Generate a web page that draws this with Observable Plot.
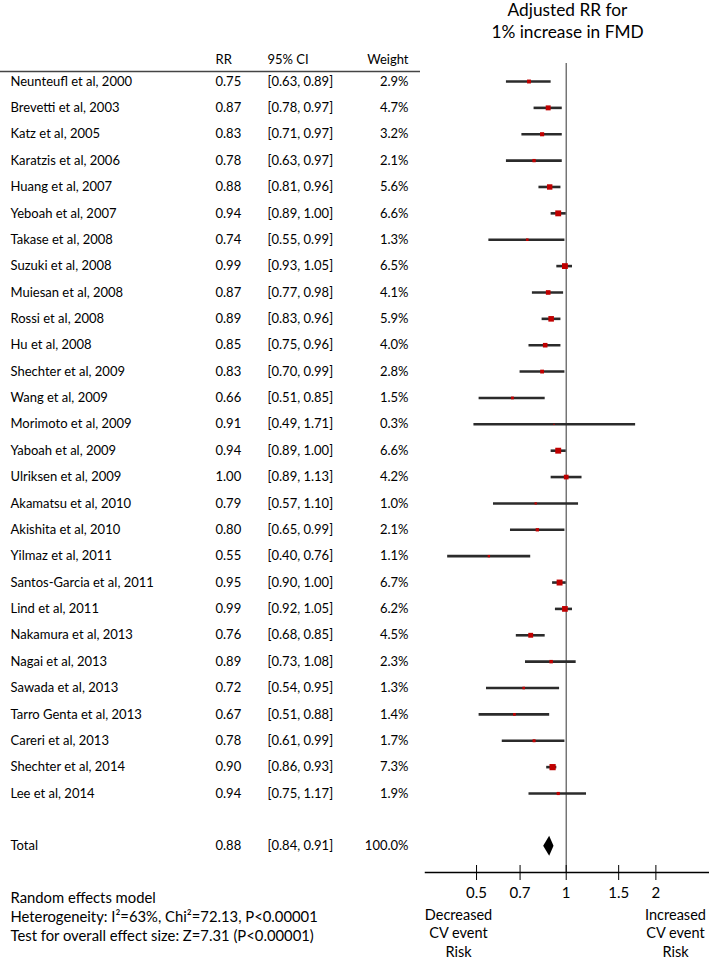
<!DOCTYPE html>
<html><head><meta charset="utf-8">
<script src="https://cdn.jsdelivr.net/npm/d3@7"></script>
<script src="https://cdn.jsdelivr.net/npm/@observablehq/plot@0.6"></script>
<style>body{margin:0;background:#fff} #chart{width:709px;height:960px}</style>
</head><body><div id="chart"></div>
<script>
const studies = ["Neunteufl et al, 2000","Brevetti et al, 2003","Katz et al, 2005","Karatzis et al, 2006","Huang et al, 2007","Yeboah et al, 2007","Takase et al, 2008","Suzuki et al, 2008","Muiesan et al, 2008","Rossi et al, 2008","Hu et al, 2008","Shechter et al, 2009","Wang et al, 2009","Morimoto et al, 2009","Yaboah et al, 2009","Ulriksen et al, 2009","Akamatsu et al, 2010","Akishita et al, 2010","Yilmaz et al, 2011","Santos-Garcia et al, 2011","Lind et al, 2011","Nakamura et al, 2013","Nagai et al, 2013","Sawada et al, 2013","Tarro Genta et al, 2013","Careri et al, 2013","Shechter et al, 2014","Lee et al, 2014"];
const rr =     [0.75,0.87,0.83,0.78,0.88,0.94,0.74,0.99,0.87,0.89,0.85,0.83,0.66,0.91,0.94,1.00,0.79,0.80,0.55,0.95,0.99,0.76,0.89,0.72,0.67,0.78,0.90,0.94];
const ciLow =  [0.63,0.78,0.71,0.63,0.81,0.89,0.55,0.93,0.77,0.83,0.75,0.70,0.51,0.49,0.89,0.89,0.57,0.65,0.40,0.90,0.92,0.68,0.73,0.54,0.51,0.61,0.86,0.75];
const ciHigh = [0.89,0.97,0.97,0.97,0.96,1.00,0.99,1.05,0.98,0.96,0.96,0.99,0.85,1.71,1.00,1.13,1.10,0.99,0.76,1.00,1.05,0.85,1.08,0.95,0.88,0.99,0.93,1.17];
const weights =[2.9,4.7,3.2,2.1,5.6,6.6,1.3,6.5,4.1,5.9,4.0,2.8,1.5,0.3,6.6,4.2,1.0,2.1,1.1,6.7,6.2,4.5,2.3,1.3,1.4,1.7,7.3,1.9];
const totalLabel = "Total";
const totalRR = 0.88, totalLow = 0.84, totalHigh = 0.91, totalWeight = 100.0;
const headers = ["RR","95% CI","Weight"];
const xTicks = [0.5,0.7,1,1.5,2];
const titleLines = ["Adjusted RR for","1% increase in FMD"];
const notes = ["Random effects model","Heterogeneity: I²=63%, Chi²=72.13, P<0.00001","Test for overall effect size: Z=7.31 (P<0.00001)"];
const leftLabel = ["Decreased","CV event","Risk"];
const rightLabel = ["Increased","CV event","Risk"];

const fmtCI = (a,b) => `[${a.toFixed(2)}, ${b.toFixed(2)}]`;
const rows = studies.map((s,i)=>({i, study:s, rr:rr[i], lo:ciLow[i], hi:ciHigh[i], w:weights[i]}));
const totalRow = {i: rows.length + 1, study: totalLabel, rr: totalRR, lo: totalLow, hi: totalHigh, w: totalWeight};
const tableRows = [...rows, totalRow];
const headerRow = -0.83;
const headerRule = -0.38;
const diamondHalf = 0.38;
const diamond = [
  {y: totalRow.i - diamondHalf, x1: totalRR, x2: totalRR},
  {y: totalRow.i, x1: totalLow, x2: totalHigh},
  {y: totalRow.i + diamondHalf, x1: totalRR, x2: totalRR}
];
const font = "Lato, 'Open Sans', sans-serif";
const col = {name: -415, rr: -210, ci: -158, weight: -17};

const chart = Plot.plot({
  width: 709, height: 960,
  marginLeft: 425, marginRight: 0, marginTop: 0, marginBottom: 95,
  style: {fontFamily: font, fontSize: "13px", color: "black", background: "white"},
  x: {type: "log", domain: [0.337, 3.027]},
  y: {type: "linear", domain: [0, 27], range: [81, 793], axis: null},
  r: {type: "sqrt", domain: [0, 7.3], range: [0, 3.5]},
  marks: [
    // reference line at RR = 1
    Plot.ruleX([1], {insetTop: 63, insetBottom: -7, stroke: "#555", strokeWidth: 1.2}),
    // axis line
    Plot.frame({anchor: "bottom", dy: 7, stroke: "black", strokeWidth: 1.5}),
    Plot.axisX({ticks: xTicks, tickFormat: d => String(d), tickSize: 15, tickPadding: 7, fontSize: 15, label: null, stroke: "black"}),
    // header
    Plot.text([headers[0]], {y: [headerRow], frameAnchor: "left", textAnchor: "start", dx: col.rr, text: d => d}),
    Plot.text([headers[1]], {y: [headerRow], frameAnchor: "left", textAnchor: "start", dx: col.ci, text: d => d}),
    Plot.text([headers[2]], {y: [headerRow], frameAnchor: "left", textAnchor: "end", dx: col.weight, text: d => d}),
    Plot.ruleY([headerRule], {insetLeft: -425, insetRight: 289, stroke: "#444", strokeWidth: 1.6}),
    // table
    Plot.text(tableRows, {y: "i", text: "study", frameAnchor: "left", textAnchor: "start", dx: col.name}),
    Plot.text(tableRows, {y: "i", text: d => d.rr.toFixed(2), frameAnchor: "left", textAnchor: "start", dx: col.rr}),
    Plot.text(tableRows, {y: "i", text: d => fmtCI(d.lo, d.hi), frameAnchor: "left", textAnchor: "start", dx: col.ci}),
    Plot.text(tableRows, {y: "i", text: d => d.w.toFixed(1) + "%", frameAnchor: "left", textAnchor: "end", dx: col.weight}),
    // forest
    Plot.ruleY(rows, {y: "i", x1: "lo", x2: "hi", stroke: "#2b2b2b", strokeWidth: 2.6}),
    Plot.dot(rows, {x: "rr", y: "i", r: "w", symbol: "square", fill: "#c00000"}),
    Plot.areaX(diamond, {y: "y", x1: "x1", x2: "x2", fill: "black", curve: "linear"}),
    // titles and notes
    Plot.text([titleLines.join("\n")], {frameAnchor: "top", lineAnchor: "top", dy: -1, fontSize: 17.3, lineHeight: 1.31}),
    Plot.text([notes.join("\n")], {frameAnchor: "bottom-left", textAnchor: "start", lineAnchor: "top", dx: col.name, dy: 24, fontSize: 14.8, lineHeight: 1.28}),
    Plot.text([leftLabel.join("\n")], {frameAnchor: "bottom-left", textAnchor: "middle", lineAnchor: "top", dx: 33, dy: 41, fontSize: 14.5, lineHeight: 1.28}),
    Plot.text([rightLabel.join("\n")], {frameAnchor: "bottom-right", textAnchor: "middle", lineAnchor: "top", dx: -34, dy: 41, fontSize: 14.5, lineHeight: 1.28})
  ]
});
document.getElementById("chart").append(chart);
</script>
</body></html>
